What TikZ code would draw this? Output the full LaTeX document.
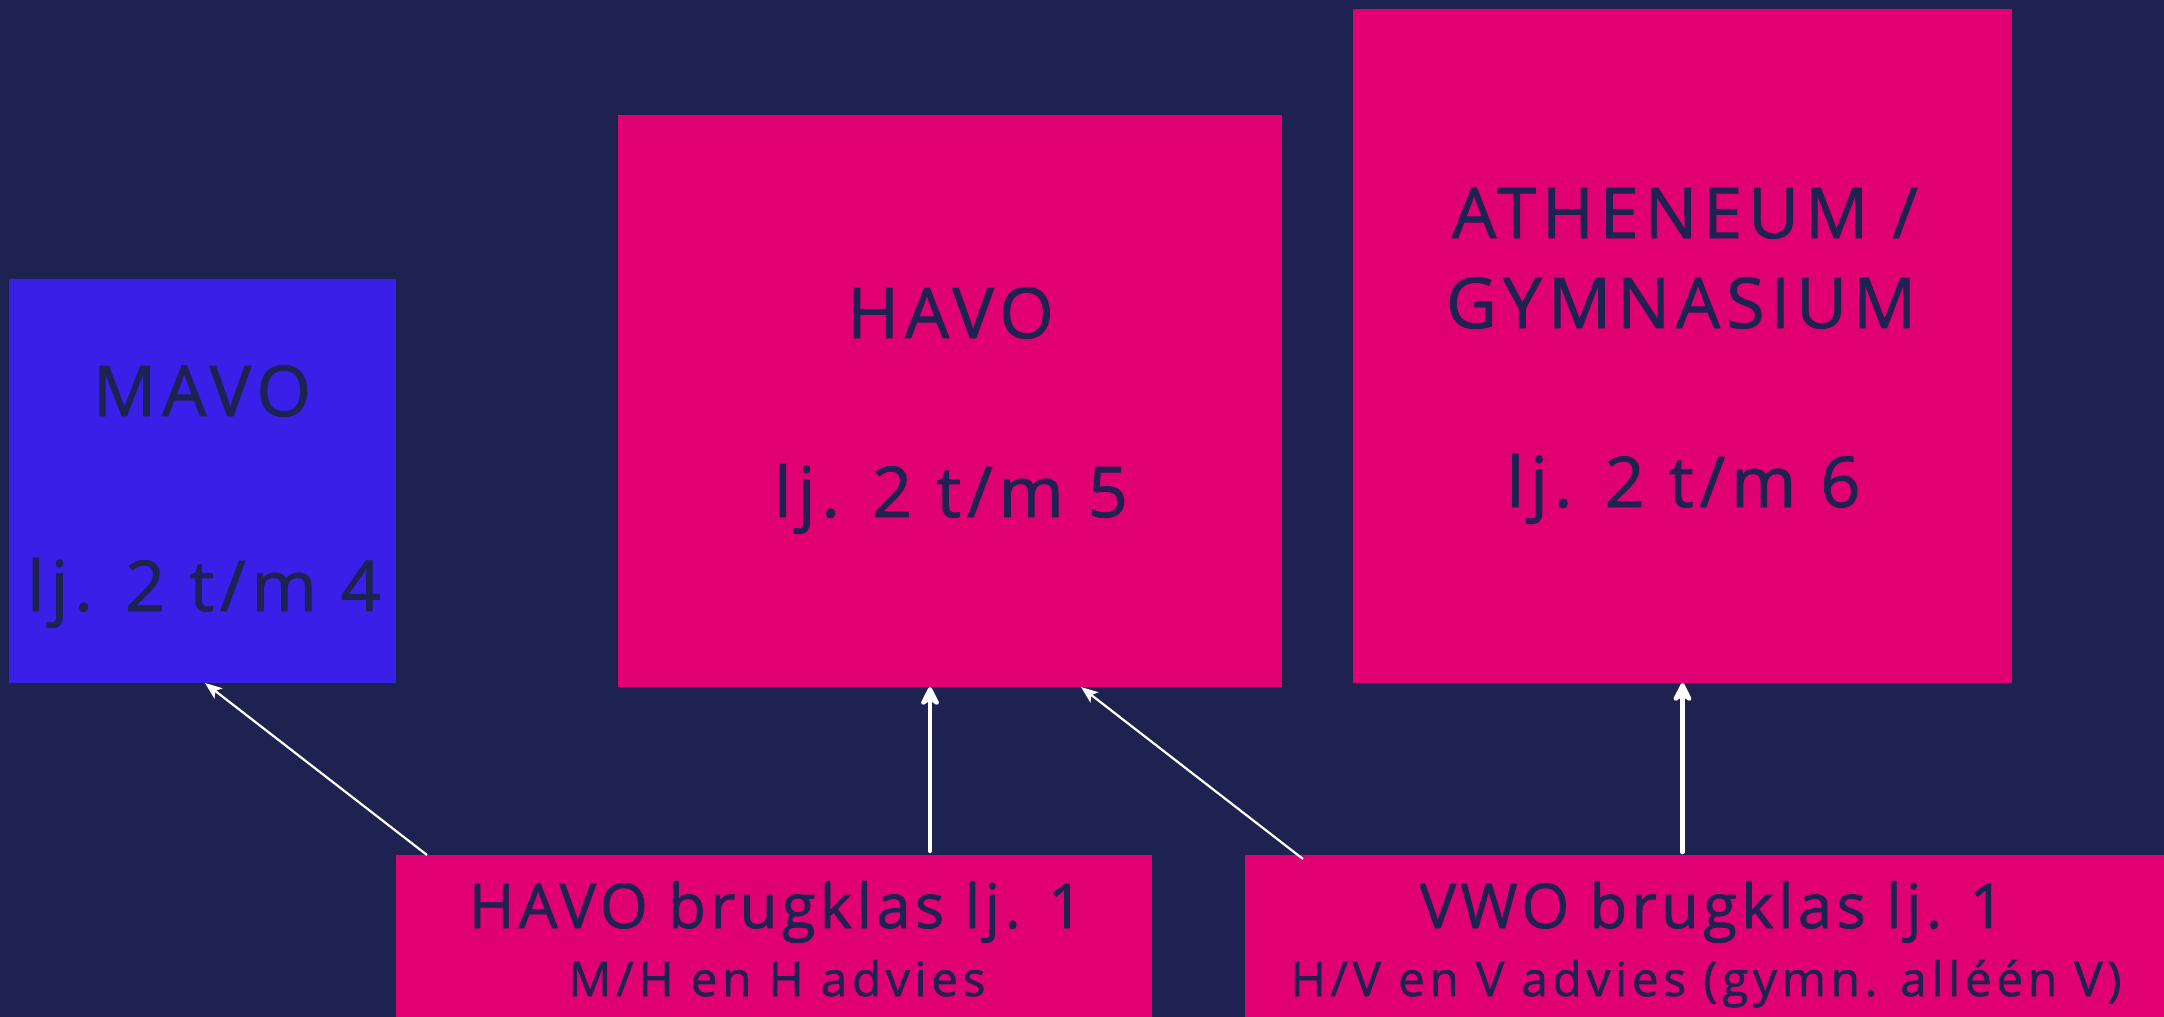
\documentclass[tikz,border=0pt]{standalone}
\usepackage{fontspec}
\setmainfont{Open Sans}
\newfontfamily\bigfont{Open Sans}[LetterSpace=8.5, FakeBold=1.3]
\newfontfamily\titlefont{Open Sans}[LetterSpace=7, FakeBold=1.3]
\newfontfamily\subfont{Open Sans}[LetterSpace=10, FakeBold=1.3]
\usetikzlibrary{arrows.meta,calc}
\definecolor{bg}{HTML}{1E2250}
\definecolor{pinkbox}{HTML}{E10073}
\definecolor{bluebox}{HTML}{3A1FE8}
\begin{document}
\begin{tikzpicture}[x=1pt,y=-1pt,
  box/.style={draw=none, inner sep=0pt, outer sep=0pt},
  big/.style={anchor=base, inner sep=0pt, text=bg, font=\bigfont\fontsize{70}{84}\selectfont},
  title/.style={anchor=base, inner sep=0pt, text=bg, font=\titlefont\fontsize{61.6}{72}\selectfont},
  sub/.style={anchor=base, inner sep=0pt, text=bg, font=\subfont\fontsize{47.6}{56}\selectfont},
  thinarrow/.style={draw=white, line width=2.2pt, -{Stealth[length=17pt,width=13pt,inset=4pt]}},
  thickarrow/.style={draw=white, line width=4.5pt, line cap=round, -{Stealth[length=24pt,width=24pt,inset=8pt,round]}}]
\fill[bg] (0,0) rectangle (2164,1017);
\useasboundingbox (0,0) rectangle (2164,1017);
% boxes
\node[box, fill=bluebox, minimum width=387pt, minimum height=404pt] (mavo) at (202.5,481) {};
\node[box, fill=pinkbox, minimum width=664pt, minimum height=572pt] (havo) at (950,401) {};
\node[box, fill=pinkbox, minimum width=659pt, minimum height=674pt] (ath) at (1682.5,346) {};
\node[box, fill=pinkbox, minimum width=756pt, minimum height=170pt] (hb) at (774,940) {};
\node[box, fill=pinkbox, minimum width=930pt, minimum height=170pt] (vb) at (1710,940) {};
% texts
\node[big] (tmavo) at (202,416) {MAVO};
\node[big] (tmavo2) at (204,611) {lj. 2 t/m 4};
\node[big] (thavo) at (950.5,338) {HAVO};
\node[big] (thavo2) at (951,517) {lj. 2 t/m 5};
\node[big] (tath) at (1685,238) {ATHENEUM /};
\node[big] (tgym) at (1681,328) {GYMNASIUM};
\node[big] (tath2) at (1683.5,507) {lj. 2 t/m 6};
\node[title] (thb) at (776,928) {HAVO brugklas lj. 1};
\node[sub] (thb2) at (777,996) {M/H en H advies};
\node[title] (tvb) at (1712,928) {VWO brugklas lj. 1};
\node[sub] (tvb2) at (1706,996) {H/V en V advies (gymn. alléén V)};
% connectors
\draw[thinarrow] ($(hb.north west)+(31,0)$) -- ($(mavo.south west)+(196,0)$);
\draw[thickarrow] ($(hb.north west)+(534,-4)$) coordinate (a1) -- (a1 |- havo.south);
\draw[thinarrow] ($(vb.north west)+(58,4)$) -- ($(havo.south west)+(463,0)$);
\draw[thickarrow] ($(ath.south |- vb.north)+(0,-3)$) -- (ath.south);
\end{tikzpicture}
\end{document}
